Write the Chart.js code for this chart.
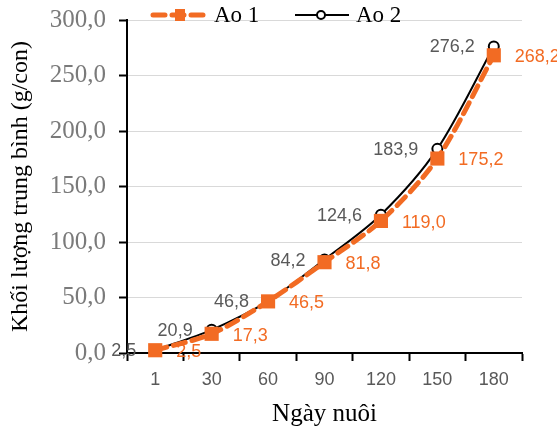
<!DOCTYPE html>
<html>
<head>
<meta charset="utf-8">
<script src="https://cdn.jsdelivr.net/npm/chart.js@4/dist/chart.umd.min.js"></script>
<style>
  html, body { margin: 0; padding: 0; background: #fff; }
  #wrap { width: 557px; height: 431px; }
</style>
</head>
<body>
<div id="wrap"><canvas id="c" width="557" height="431"></canvas></div>
<script>
// === Data ===
const days = ['1', '30', '60', '90', '120', '150', '180'];
const ao1 = [2.5, 17.3, 46.5, 81.8, 119.0, 175.2, 268.2];
const ao2 = [2.5, 20.9, 46.8, 84.2, 124.6, 183.9, 276.2];
const seriesNames = ['Ao 1', 'Ao 2'];
const yTicks = [0, 50, 100, 150, 200, 250, 300];

// === Style ===
const ORANGE = '#F26B23';
const GRAY_TXT = '#595959';
const SERIF = '"Liberation Serif", "Times New Roman", serif';
const SANS = '"Liberation Sans", Arial, sans-serif';

const fmt = v => v.toFixed(1).replace('.', ',');

// data labels: Ao 2 left of the point, Ao 1 right of it
const labelsPlugin = {
  id: 'pointLabels',
  afterDatasetsDraw(chart) {
    const ctx = chart.ctx;
    ctx.save();
    ctx.font = '18px ' + SANS;
    ctx.textBaseline = 'middle';
    const m2 = chart.getDatasetMeta(1);
    ctx.fillStyle = GRAY_TXT;
    ctx.textAlign = 'right';
    m2.data.forEach((p, i) => ctx.fillText(fmt(ao2[i]), p.x - 19, p.y + 1));
    const m1 = chart.getDatasetMeta(0);
    ctx.fillStyle = ORANGE;
    ctx.textAlign = 'left';
    m1.data.forEach((p, i) => ctx.fillText(fmt(ao1[i]), p.x + 21, p.y + 2));
    ctx.restore();
  }
};

// legend drawn by hand (line + marker + text)
const legendPlugin = {
  id: 'customLegend',
  afterDraw(chart) {
    const ctx = chart.ctx;
    const y = 15;
    ctx.save();
    // Ao 1
    ctx.strokeStyle = ORANGE;
    ctx.lineWidth = 5;
    ctx.lineCap = 'round';
    ctx.setLineDash([12, 7]);
    ctx.beginPath();
    ctx.moveTo(153, y);
    ctx.lineTo(209, y);
    ctx.stroke();
    ctx.setLineDash([]);
    ctx.fillStyle = ORANGE;
    ctx.fillRect(175, y - 6, 10, 12);
    // Ao 2
    ctx.strokeStyle = '#000';
    ctx.lineWidth = 2;
    ctx.lineCap = 'butt';
    ctx.beginPath();
    ctx.moveTo(295, y);
    ctx.lineTo(349, y);
    ctx.stroke();
    ctx.fillStyle = '#fff';
    ctx.beginPath();
    ctx.arc(321, y, 4, 0, Math.PI * 2);
    ctx.fill();
    ctx.stroke();
    // texts
    ctx.fillStyle = '#000';
    ctx.font = '23px ' + SERIF;
    ctx.textBaseline = 'middle';
    ctx.textAlign = 'left';
    ctx.fillText(seriesNames[0], 214, y + 1);
    ctx.fillText(seriesNames[1], 356, y + 1);
    ctx.restore();
  }
};

new Chart(document.getElementById('c'), {
  type: 'line',
  data: {
    labels: days,
    datasets: [{
      label: seriesNames[0],
      data: ao1,
      borderColor: ORANGE,
      backgroundColor: ORANGE,
      borderWidth: 5,
      borderDash: [12, 7],
      borderCapStyle: 'round',
      tension: 0.3,
      pointStyle: 'rect',
      pointRadius: 10,
      pointBorderWidth: 0,
      pointBackgroundColor: ORANGE,
      clip: false
    }, {
      label: seriesNames[1],
      data: ao2,
      borderColor: '#000',
      backgroundColor: '#fff',
      borderWidth: 2,
      tension: 0.3,
      pointStyle: 'circle',
      pointRadius: 5,
      pointBorderWidth: 2,
      pointBorderColor: '#000',
      pointBackgroundColor: '#fff',
      clip: false
    }]
  },
  options: {
    responsive: false,
    animation: false,
    events: [],
    layout: { padding: { top: 20, right: 35, left: 0, bottom: 0 } },
    plugins: {
      legend: { display: false },
      tooltip: { enabled: false }
    },
    scales: {
      x: {
        offset: true,
        grid: {
          offset: true,
          drawOnChartArea: false,
          tickColor: '#000',
          tickLength: 8,
          tickWidth: 2
        },
        border: { color: '#000', width: 2 },
        ticks: {
          color: GRAY_TXT,
          font: { family: SANS, size: 18 },
          padding: 8,
          maxRotation: 0
        },
        title: {
          display: true,
          text: 'Ngày nuôi',
          color: '#000',
          font: { family: SERIF, size: 25 },
          padding: { top: 4, bottom: 2 }
        },
        afterFit(s) { s.height = 431 - 353; }
      },
      y: {
        min: 0,
        max: 300,
        afterBuildTicks(s) { s.ticks = yTicks.map(v => ({ value: v })); },
        grid: {
          color: '#d9d9d9',
          lineWidth: 1,
          tickColor: '#000',
          tickLength: 8,
          tickWidth: 2
        },
        border: { color: '#000', width: 2 },
        ticks: {
          color: '#7a7a7a',
          font: { family: SERIF, size: 25 },
          padding: 13,
          callback: v => fmt(v)
        },
        title: {
          display: true,
          text: 'Khối lượng trung bình (g/con)',
          color: '#000',
          font: { family: SERIF, size: 24 },
          padding: { top: 6, bottom: 0 }
        },
        afterFit(s) {
          s.width = 127;
          s.paddingTop = 0;
          s.paddingBottom = 0;
        }
      }
    }
  },
  plugins: [labelsPlugin, legendPlugin]
});
</script>
</body>
</html>
